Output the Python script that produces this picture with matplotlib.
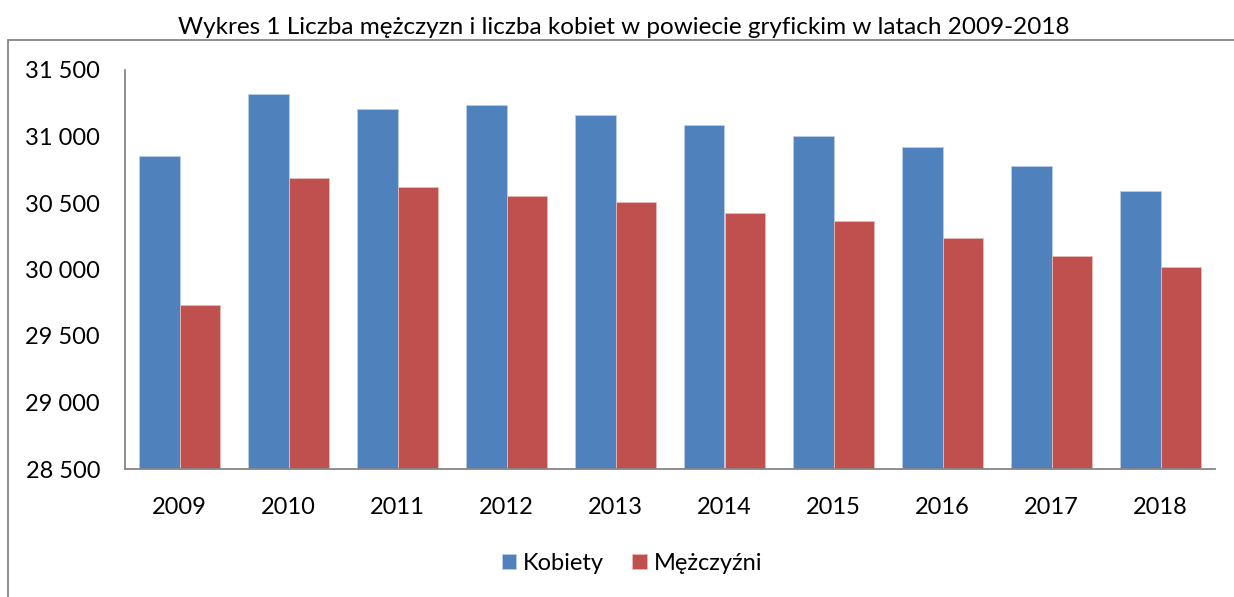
import matplotlib
matplotlib.use("Agg")
import matplotlib.pyplot as plt
import numpy as np
from matplotlib.patches import Rectangle
from matplotlib.ticker import FuncFormatter

years = ["2009", "2010", "2011", "2012", "2013", "2014", "2015", "2016", "2017", "2018"]
kobiety = [30855, 31320, 31210, 31238, 31160, 31090, 31003, 30918, 30780, 30590]
mezczyzni = [29735, 30685, 30620, 30555, 30508, 30422, 30363, 30238, 30098, 30020]

plt.rcParams['font.family'] = ['Lato', 'DejaVu Sans']

fig = plt.figure(figsize=(12.34, 5.97), dpi=100)
ax = fig.add_axes([125 / 1234, 1 - 469 / 597, (1215 - 125) / 1234, (469 - 70) / 597])

# ramka wykresu jak w Excelu
fig.patches.append(Rectangle((8 / 1234, -0.1), 1.2, 1 - 40 / 597 + 0.1,
                             transform=fig.transFigure, fill=False,
                             edgecolor='#868686', linewidth=1.3))

x = np.arange(len(years))
w = 0.367
ax.bar(x - w / 2, kobiety, w, color='#4F81BD', edgecolor='#B9CDE5', linewidth=0.6, label='Kobiety')
ax.bar(x + w / 2, mezczyzni, w, color='#C0504D', edgecolor='#E6B9B8', linewidth=0.6, label='Mężczyźni')

ax.set_ylim(28500, 31500)
ax.set_xlim(-0.5, len(years) - 0.5)
ax.set_yticks(np.arange(28500, 31501, 500))
ax.yaxis.set_major_formatter(FuncFormatter(lambda v, p: '{:,.0f}'.format(v).replace(',', ' ')))
ax.set_xticks(x)
ax.set_xticklabels(years)
ax.tick_params(axis='both', length=0, labelsize=17)
ax.tick_params(axis='y', pad=18)
ax.tick_params(axis='x', pad=20)

for s in ['top', 'right']:
    ax.spines[s].set_visible(False)
for s in ['left', 'bottom']:
    ax.spines[s].set_color('#868686')
    ax.spines[s].set_linewidth(1.3)

fig.text(624 / 1234, 1 - 28 / 597, 'Wykres 1 Liczba mężczyzn i liczba kobiet w powiecie gryfickim w latach 2009-2018',
         ha='center', va='center', fontsize=17.5)

fig.legend(loc='center', bbox_to_anchor=(632 / 1234, 1 - 563 / 597), ncol=2, frameon=False,
           fontsize=17, handlelength=0.6, handleheight=0.6, handletextpad=0.3, columnspacing=1.2)

fig.savefig('out.png', dpi=100)
